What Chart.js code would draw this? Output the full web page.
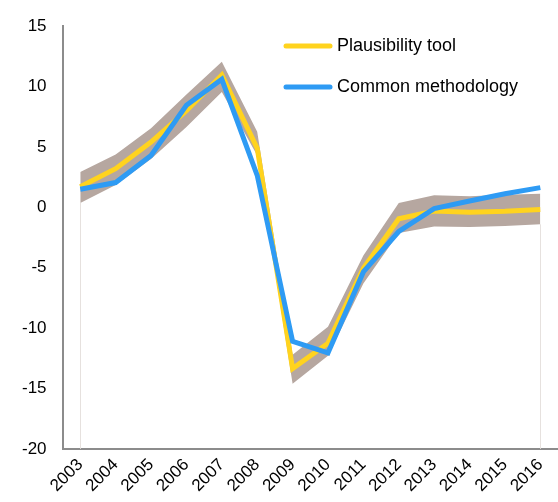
<!DOCTYPE html>
<html>
<head>
<meta charset="utf-8">
<script src="https://cdn.jsdelivr.net/npm/chart.js@4/dist/chart.umd.min.js"></script>
<style>
  html, body { margin: 0; padding: 0; background: #fff; }
  #wrap { width: 558px; height: 502px; position: relative; }
</style>
</head>
<body>
<div id="wrap"><canvas id="c" width="558" height="502"></canvas></div>
<script>
const years = ['2003','2004','2005','2006','2007','2008','2009','2010','2011','2012','2013','2014','2015','2016'];
const plausibility = [1.7, 3.2, 5.4, 8.0, 10.95, 4.9, -13.35, -11.25, -5.05, -0.95, -0.3, -0.4, -0.33, -0.17];
const common = [1.5, 2.05, 4.3, 8.45, 10.6, 2.65, -11.1, -12.05, -5.35, -2.0, -0.1, 0.52, 1.13, 1.63];
const bandUpper = [2.93, 4.37, 6.55, 9.35, 12.05, 6.25, -12.2, -9.9, -3.98, 0.36, 1.0, 0.91, 1.05, 1.13];
const bandLower = [0.36, 1.85, 4.0, 6.66, 9.56, 4.3, -14.6, -12.3, -6.3, -2.12, -1.58, -1.63, -1.55, -1.41];
const yTicks = [-20, -15, -10, -5, 0, 5, 10, 15];

const FONT = "'Liberation Sans', Arial, sans-serif";
const YELLOW = '#FFD31E';
const BLUE = '#2E9BF4';
const BAND = '#B6A7A0';

const edgeLines = {
  id: 'edgeLines',
  beforeDatasetsDraw(chart) {
    const ctx = chart.ctx, x = chart.scales.x, y = chart.scales.y;
    ctx.save();
    ctx.strokeStyle = '#E6E1DE';
    ctx.lineWidth = 1;
    [0, years.length - 1].forEach(i => {
      const px = Math.round(x.getPixelForValue(i)) + 0.5;
      ctx.beginPath();
      ctx.moveTo(px, y.getPixelForValue(bandLower[i]));
      ctx.lineTo(px, chart.chartArea.bottom);
      ctx.stroke();
    });
    ctx.restore();
  }
};

const customLegend = {
  id: 'customLegend',
  afterDraw(chart) {
    const ctx = chart.ctx;
    const items = chart.data.datasets.filter(d => d.showInLegend);
    ctx.save();
    items.forEach((d, k) => {
      const yy = 46 + k * 41;
      ctx.strokeStyle = d.borderColor;
      ctx.lineWidth = 5;
      ctx.lineCap = 'round';
      ctx.beginPath();
      ctx.moveTo(286, yy);
      ctx.lineTo(330, yy);
      ctx.stroke();
      ctx.fillStyle = '#000';
      ctx.font = '18px ' + FONT;
      ctx.textBaseline = 'middle';
      ctx.fillText(d.label, 337, yy);
    });
    ctx.restore();
  }
};

new Chart(document.getElementById('c'), {
  type: 'line',
  data: {
    labels: years,
    datasets: [
      { label: 'Plausibility tool', data: plausibility, borderColor: YELLOW, borderWidth: 5, pointRadius: 0, tension: 0, fill: false, order: 1, showInLegend: true, borderJoinStyle: 'miter' },
      { label: 'Common methodology', data: common, borderColor: BLUE, borderWidth: 5, pointRadius: 0, tension: 0, fill: false, order: 0, showInLegend: true, borderJoinStyle: 'miter' },
      { label: 'Upper bound', data: bandUpper, borderWidth: 0, borderColor: 'rgba(0,0,0,0)', backgroundColor: BAND, pointRadius: 0, tension: 0, fill: '+1', order: 2 },
      { label: 'Lower bound', data: bandLower, borderWidth: 0, borderColor: 'rgba(0,0,0,0)', pointRadius: 0, tension: 0, fill: false, order: 3 }
    ]
  },
  options: {
    responsive: false,
    animation: false,
    layout: { padding: { top: 18, right: -6, left: 6, bottom: 0 } },
    plugins: { legend: { display: false }, tooltip: { enabled: false } },
    scales: {
      x: {
        offset: true,
        grid: { display: false, drawTicks: false },
        border: { display: true, color: '#8C8C8C', width: 2 },
        afterFit(s) { s.paddingRight = 0; s.paddingLeft = 0; },
        ticks: { color: '#000', font: { family: FONT, size: 17 }, maxRotation: 45, minRotation: 45, padding: 6, autoSkip: false }
      },
      y: {
        min: -20, max: 15,
        grid: { display: false, drawTicks: false },
        border: { display: true, color: '#8C8C8C', width: 2 },
        afterBuildTicks(s) { s.ticks = yTicks.map(v => ({ value: v })); },
        ticks: { color: '#000', font: { family: FONT, size: 17 }, padding: 16 }
      }
    }
  },
  plugins: [edgeLines, customLegend]
});
</script>
</body>
</html>
